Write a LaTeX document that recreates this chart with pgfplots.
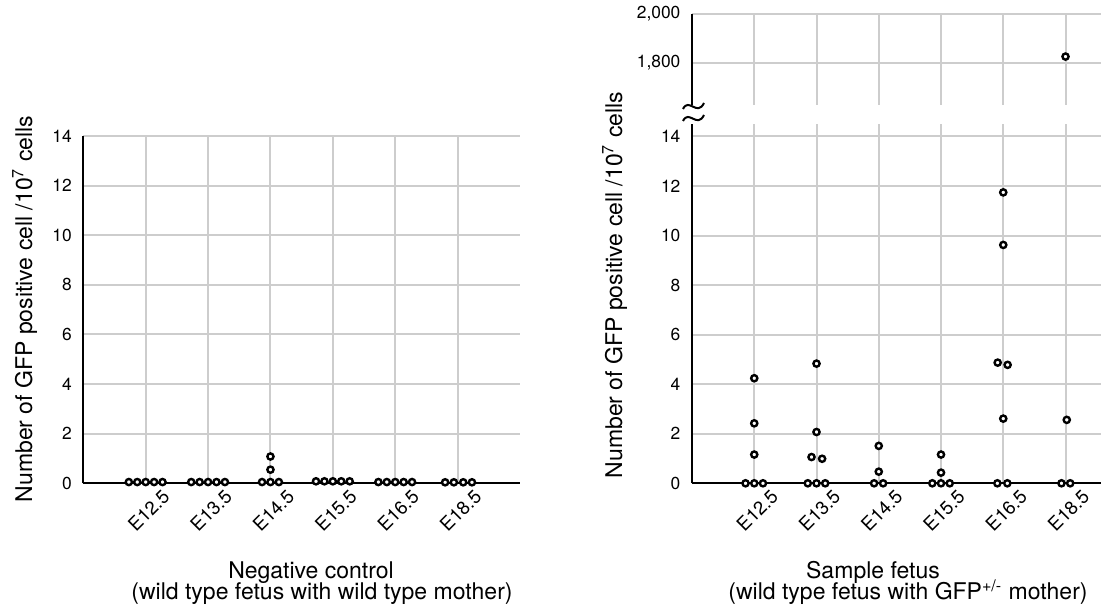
\documentclass[border=0pt]{standalone}
\usepackage{fontspec}
\setmainfont{TeX Gyre Heros}
\usepackage{pgfplots}
\pgfplotsset{compat=1.18}

\definecolor{gridgray}{RGB}{205,205,205}

\pgfplotsset{
  gfpaxis/.style={
    scale only axis,
    clip=false,
    axis x line=bottom, axis y line=left,
    axis line style={-, line width=1pt, black},
    major tick length=0pt,
    grid=major,
    major grid style={gridgray, line width=1pt},
    xmin=0,
    xtick={1,...,6},
    scaled y ticks=false,
    /pgf/number format/assume math mode=true,
    yticklabel style={font=\fontsize{8.7}{10}\selectfont, inner sep=0pt, xshift=-5.6pt},
    xticklabel style={font=\fontsize{9.4}{11}\selectfont, rotate=45, anchor=east,
      inner sep=0pt, xshift=3.9pt, yshift=-10.7pt},
  },
  dots/.style={only marks, mark=*, mark size=1.55pt,
    mark options={fill=white, draw=black, line width=1.2pt}},
}

\begin{document}
\begin{tikzpicture}
\useasboundingbox (0,0) rectangle (551.5pt,305pt);

% negative control
\begin{axis}[gfpaxis, at={(41.65pt,63.35pt)}, anchor=south west,
  width=218.35pt, height=173.65pt,
  xmax=7, ymin=0, ymax=14, ytick={0,2,...,14},
  xticklabels={E12.5,E13.5,E14.5,E15.5,E16.5,E18.5}]
\addplot[dots] coordinates {
  (0.73,0.05) (0.865,0.05) (1.0,0.05) (1.135,0.05) (1.27,0.05)
  (1.73,0.05) (1.865,0.05) (2.0,0.05) (2.135,0.05) (2.27,0.05)
  (2.865,0.05) (3.0,0.05) (3.135,0.05) (3.0,0.55) (3.0,1.08)
  (3.73,0.08) (3.865,0.08) (4.0,0.08) (4.135,0.08) (4.27,0.08)
  (4.73,0.05) (4.865,0.05) (5.0,0.05) (5.135,0.05) (5.27,0.05)
  (5.80,0.04) (5.94,0.04) (6.09,0.04) (6.23,0.04)
};
\end{axis}

% sample fetus, lower part
\begin{axis}[gfpaxis, at={(346pt,63.35pt)}, anchor=south west,
  width=204.5pt, height=179.65pt,
  xmax=6.57, ymin=0, ymax=14.5, ytick={0,2,...,14},
  xticklabels={E12.5,E13.5,E14.5,E15.5,E16.5,E18.5}]
\addplot[dots] coordinates {
  (0.86,0) (1.0,0) (1.14,0) (1.0,1.16) (1.0,2.42) (1.0,4.24)
  (1.86,0) (2.0,0) (2.14,0) (1.92,1.06) (2.09,0.99) (2.0,2.07) (2.0,4.83)
  (2.925,0) (3.07,0) (3.0,0.47) (3.0,1.51)
  (3.86,0) (4.0,0) (4.14,0) (4.0,0.43) (4.0,1.16)
  (4.905,0) (5.065,0) (5.0,2.61) (4.91,4.87) (5.07,4.78) (5.0,9.62) (5.0,11.74)
  (5.935,0) (6.075,0) (6.02,2.56)
};
\end{axis}

% sample fetus, upper part
\begin{axis}[gfpaxis, at={(346pt,252.5pt)}, anchor=south west,
  width=204.5pt, height=45.5pt,
  xmax=6.57, ymin=1626, ymax=2000, ytick={1800,2000},
  x axis line style={draw=none},
  xticklabels={}]
\addplot[dots] coordinates {(6.0,1825)};
\end{axis}

\begin{scope}[x=0.5pt, y=-0.5pt, yshift=305pt, font=\fontsize{11.5}{12}\selectfont]
  \node[rotate=90, anchor=base] at (32,309) {Number of GFP positive cell /10\textsuperscript{7} cells};
  \node[rotate=90, anchor=base] at (622,285) {Number of GFP positive cell /10\textsuperscript{7} cells};
  \node[anchor=base] at (311,579) {Negative control};
  \node[anchor=base] at (322,600) {(wild type fetus with wild type mother)};
  \node[anchor=base] at (873,579) {Sample fetus};
  \node[anchor=base] at (908,600) {(wild type fetus with GFP\textsuperscript{+/-} mother)};
  \draw[line width=1pt] (683,109) .. controls (689,97) and (697,117) .. (704,103);
  \draw[line width=1pt] (683,121) .. controls (689,109) and (697,129) .. (704,115);
\end{scope}
\end{tikzpicture}
\end{document}
